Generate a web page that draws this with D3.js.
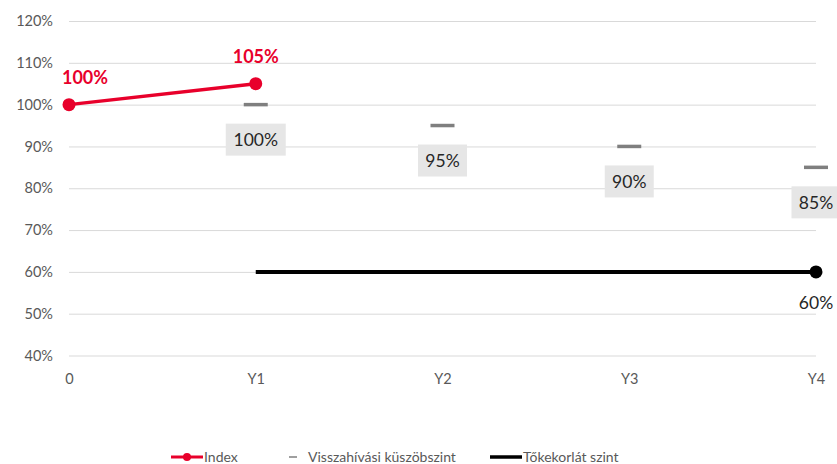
<!DOCTYPE html>
<html><head><meta charset="utf-8">
<script src="https://cdn.jsdelivr.net/npm/d3@7"></script>
<style>body{margin:0;background:#fff;} svg{display:block;font-family:Lato,"Open Sans",sans-serif;}</style>
</head><body>
<svg id="c" width="837" height="464"></svg>
<script>
const categories = ["0","Y1","Y2","Y3","Y4"];
const indexValues = [1.00, 1.05, null, null, null];
const thresholdValues = [null, 1.00, 0.95, 0.90, 0.85];
const floorValues = [null, 0.60, 0.60, 0.60, 0.60];
const yTicks = [0.4,0.5,0.6,0.7,0.8,0.9,1.0,1.1,1.2];
const seriesNames = ["Index","Visszahívási küszöbszint","Tőkekorlát szint"];

const svg = d3.select("#c");
const x = d3.scalePoint().domain(categories).range([69,816]);
const y = d3.scaleLinear().domain([0.4,1.2]).range([355.5,21]);
const pct = d3.format(".0%");

// grid
const yAxis = d3.axisLeft(y).tickValues(yTicks).tickFormat(pct).tickSize(-(816-69)).tickPadding(16);
const ga = svg.append("g").attr("transform","translate(69,0)").call(yAxis);
ga.select(".domain").remove();
ga.selectAll(".tick line").attr("stroke","#d9d9d9").attr("stroke-width",1);
ga.selectAll(".tick text").attr("fill","#595959").style("font-size","14.5px").style("font-family","Lato,sans-serif");

const xAxis = d3.axisBottom(x).tickSize(0).tickPadding(18);
const gx = svg.append("g").attr("transform","translate(0,355.5)").call(xAxis);
gx.select(".domain").remove();
gx.selectAll(".tick text").attr("fill","#595959").style("font-size","14.5px").style("font-family","Lato,sans-serif");

const red = "#e8002b";
// floor line
const floorData = categories.map((c,i)=>({c,v:floorValues[i]})).filter(d=>d.v!=null);
svg.append("path").datum(floorData)
  .attr("d", d3.line().x(d=>x(d.c)).y(d=>y(d.v)))
  .attr("fill","none").attr("stroke","#000").attr("stroke-width",4);
const lastF = floorData[floorData.length-1];
svg.append("circle").attr("cx",x(lastF.c)).attr("cy",y(lastF.v)).attr("r",6.5).attr("fill","#000");
svg.append("text").attr("x",x(lastF.c)).attr("y",y(lastF.v)+37.5).attr("text-anchor","middle")
  .attr("fill","#262626").style("font-size","17.5px").text(pct(lastF.v));

// thresholds
const thrData = categories.map((c,i)=>({c,v:thresholdValues[i]})).filter(d=>d.v!=null);
svg.selectAll(".thr").data(thrData).enter().append("line")
  .attr("x1",d=>x(d.c)-12).attr("x2",d=>x(d.c)+12)
  .attr("y1",d=>y(d.v)).attr("y2",d=>y(d.v))
  .attr("stroke","#7f7f7f").attr("stroke-width",3.5);
const lbl = svg.selectAll(".thl").data(thrData).enter().append("g");
lbl.append("rect").attr("x",d=>x(d.c)-(d.v>=1?30:24.5)).attr("y",d=>y(d.v)+19)
  .attr("width",d=>d.v>=1?60:49).attr("height",32).attr("fill","#e6e6e6");
lbl.append("text").attr("x",d=>x(d.c)).attr("y",d=>y(d.v)+41.5).attr("text-anchor","middle")
  .attr("fill","#262626").style("font-size","17.5px").text(d=>pct(d.v));

// index
const idxData = categories.map((c,i)=>({c,v:indexValues[i]})).filter(d=>d.v!=null);
svg.append("path").datum(idxData)
  .attr("d", d3.line().x(d=>x(d.c)).y(d=>y(d.v)))
  .attr("fill","none").attr("stroke",red).attr("stroke-width",3.5);
svg.selectAll(".idx").data(idxData).enter().append("circle")
  .attr("cx",d=>x(d.c)).attr("cy",d=>y(d.v)).attr("r",6.5).attr("fill",red);
svg.selectAll(".idxl").data(idxData).enter().append("text")
  .attr("x",(d,i)=>Math.max(x(d.c),85)).attr("y",d=>y(d.v)-21).attr("text-anchor","middle")
  .attr("fill",red).style("font-size","18px").style("font-weight","bold").text(d=>pct(d.v));

// legend
const ly = 457;
const lg = svg.append("g");
lg.append("line").attr("x1",171).attr("x2",203).attr("y1",ly).attr("y2",ly).attr("stroke",red).attr("stroke-width",3);
lg.append("circle").attr("cx",187).attr("cy",ly).attr("r",4).attr("fill",red);
lg.append("text").attr("x",204).attr("y",ly+5).attr("fill","#595959").style("font-size","14px").text(seriesNames[0]);
lg.append("line").attr("x1",289).attr("x2",297).attr("y1",ly).attr("y2",ly).attr("stroke","#7f7f7f").attr("stroke-width",1.5);
lg.append("text").attr("x",308).attr("y",ly+5).attr("fill","#595959").style("font-size","14px").text(seriesNames[1]);
lg.append("line").attr("x1",490).attr("x2",522).attr("y1",ly).attr("y2",ly).attr("stroke","#000").attr("stroke-width",3.5);
lg.append("text").attr("x",523).attr("y",ly+5).attr("fill","#595959").style("font-size","14px").text(seriesNames[2]);
</script>
</body></html>
